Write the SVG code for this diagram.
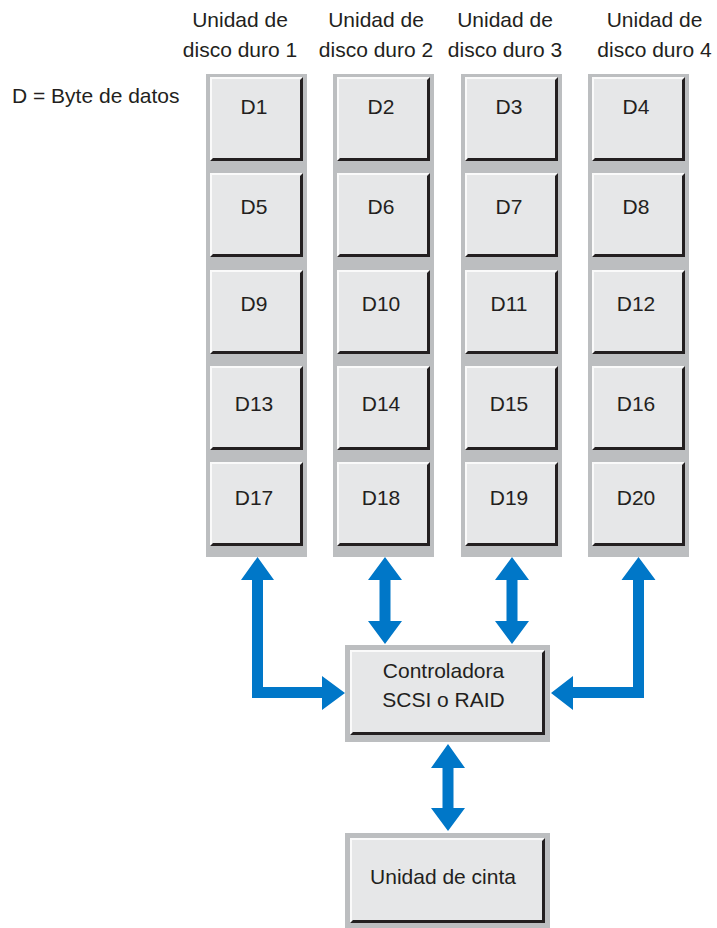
<svg xmlns="http://www.w3.org/2000/svg" width="717" height="928" viewBox="0 0 717 928">
<style>
text{font-family:"Liberation Sans",Arial,sans-serif;font-size:21px;fill:#231f20}
.c{text-anchor:middle}
.panel{fill:#bcbec0}
.face{fill:#e6e7e8}
.hi{fill:#fafafa}
.sh{fill:#231f20}
.arr{fill:#0077c8}
</style>
<defs>
<g id="box">
<rect class="face" x="0" y="0" width="93" height="84"/>
<polygon class="hi" points="0,0 93,0 90,2 2,2 2,82 0,84"/>
<polygon class="sh" points="90,3 93,0 93,84 0,84 3,81 90,81"/>
</g>
<g id="bigbox">
<rect class="face" x="0" y="0" width="195" height="85"/>
<polygon class="hi" points="0,0 195,0 192,2 2,2 2,83 0,85"/>
<polygon class="sh" points="192,3 195,0 195,85 0,85 3,82 192,82"/>
</g>
</defs>
<rect width="717" height="928" fill="#fff"/>

<text x="12" y="103">D = Byte de datos</text>

<g id="hdr1"><text class="c" x="240" y="27">Unidad de</text><text class="c" x="240" y="57">disco duro 1</text></g>
<g id="hdr2"><text class="c" x="376" y="27">Unidad de</text><text class="c" x="376" y="57">disco duro 2</text></g>
<g id="hdr3"><text class="c" x="505" y="27">Unidad de</text><text class="c" x="505" y="57">disco duro 3</text></g>
<g id="hdr4"><text class="c" x="654.5" y="27">Unidad de</text><text class="c" x="654.5" y="57">disco duro 4</text></g>

<g id="disk1">
<rect class="panel" x="206" y="74" width="101" height="483"/>
<g id="d1"><use href="#box" x="210" y="77"/><text class="c" x="254" y="114">D1</text></g>
<g id="d5"><use href="#box" x="210" y="173"/><text class="c" x="254" y="214">D5</text></g>
<g id="d9"><use href="#box" x="210" y="270"/><text class="c" x="254" y="311">D9</text></g>
<g id="d13"><use href="#box" x="210" y="366"/><text class="c" x="254" y="411">D13</text></g>
<g id="d17"><use href="#box" x="210" y="462"/><text class="c" x="254" y="505">D17</text></g>
</g>
<g id="disk2">
<rect class="panel" x="333" y="74" width="101" height="483"/>
<g id="d2"><use href="#box" x="337" y="77"/><text class="c" x="381" y="114">D2</text></g>
<g id="d6"><use href="#box" x="337" y="173"/><text class="c" x="381" y="214">D6</text></g>
<g id="d10"><use href="#box" x="337" y="270"/><text class="c" x="381" y="311">D10</text></g>
<g id="d14"><use href="#box" x="337" y="366"/><text class="c" x="381" y="411">D14</text></g>
<g id="d18"><use href="#box" x="337" y="462"/><text class="c" x="381" y="505">D18</text></g>
</g>
<g id="disk3">
<rect class="panel" x="461" y="74" width="101" height="483"/>
<g id="d3"><use href="#box" x="465" y="77"/><text class="c" x="509" y="114">D3</text></g>
<g id="d7"><use href="#box" x="465" y="173"/><text class="c" x="509" y="214">D7</text></g>
<g id="d11"><use href="#box" x="465" y="270"/><text class="c" x="509" y="311">D11</text></g>
<g id="d15"><use href="#box" x="465" y="366"/><text class="c" x="509" y="411">D15</text></g>
<g id="d19"><use href="#box" x="465" y="462"/><text class="c" x="509" y="505">D19</text></g>
</g>
<g id="disk4">
<rect class="panel" x="588" y="74" width="101" height="483"/>
<g id="d4"><use href="#box" x="592" y="77"/><text class="c" x="636" y="114">D4</text></g>
<g id="d8"><use href="#box" x="592" y="173"/><text class="c" x="636" y="214">D8</text></g>
<g id="d12"><use href="#box" x="592" y="270"/><text class="c" x="636" y="311">D12</text></g>
<g id="d16"><use href="#box" x="592" y="366"/><text class="c" x="636" y="411">D16</text></g>
<g id="d20"><use href="#box" x="592" y="462"/><text class="c" x="636" y="505">D20</text></g>
</g>

<g id="controller">
<rect class="panel" x="345" y="645" width="205" height="97"/>
<use href="#bigbox" x="350" y="650"/>
<text class="c" x="443.5" y="678">Controladora</text>
<text class="c" x="443.5" y="707">SCSI o RAID</text>
</g>

<g id="tape">
<rect class="panel" x="345" y="833" width="205" height="95"/>
<use href="#bigbox" x="350" y="838"/>
<text class="c" x="443" y="884">Unidad de cinta</text>
</g>

<g id="connectors">
<path class="arr" d="M257.5,557 L274,580 L263,580 L263,687 L322,687 L322,676 L345,693 L322,710 L322,698 L252,698 L252,580 L241,580 Z"/>
<path class="arr" d="M385,557 L402,580 L390.5,580 L390.5,621 L402,621 L385,644 L368,621 L379.5,621 L379.5,580 L368,580 Z"/>
<path class="arr" d="M512,557 L529,580 L517.5,580 L517.5,621 L529,621 L512,644 L495,621 L506.5,621 L506.5,580 L495,580 Z"/>
<path class="arr" d="M638.5,557 L655.5,580 L644,580 L644,698 L573,698 L573,710 L551,693 L573,676 L573,687 L633,687 L633,580 L621.5,580 Z"/>
<path class="arr" d="M448,744 L465,768 L453.5,768 L453.5,808 L465,808 L448,831 L431,808 L442.5,808 L442.5,768 L431,768 Z"/>
</g>
</svg>
